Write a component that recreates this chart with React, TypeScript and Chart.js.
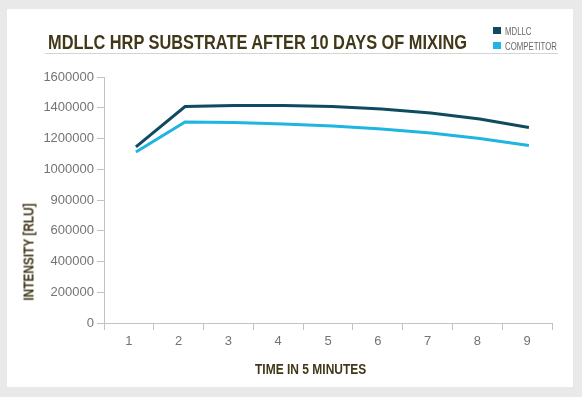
import React, { useEffect, useRef } from "react";
import { Chart, registerables } from "chart.js";

Chart.register(...registerables);

// ---- data ----
const timeLabels = ["1", "2", "3", "4", "5", "6", "7", "8", "9"];
const timeValues = [1, 2, 3, 4, 5, 6, 7, 8, 9];
const mdllcValues = [1145000, 1408000, 1415000, 1415000, 1408000, 1392000, 1366000, 1327000, 1272000];
const competitorValues = [1112000, 1307000, 1304000, 1294000, 1281000, 1262000, 1236000, 1200000, 1154000];
const yTickLabels = ["0", "200000", "400000", "600000", "900000", "1000000", "1200000", "1400000", "1600000"];
const seriesNames = ["MDLLC", "COMPETITOR"];
const titleText = "MDLLC HRP SUBSTRATE AFTER 10 DAYS OF MIXING";
const xAxisTitle = "TIME IN 5 MINUTES";
const yAxisTitle = "INTENSITY [RLU]";

// ---- styles ----
const seriesColors = ["#0f4a60", "#1fb4e2"];
const SANS = "'Liberation Sans', Arial, sans-serif";
const titleColor = "#41381a";
const tickColor = "#747474";
const axisColor = "#c2c2c2";

export default function App() {
  const ref = useRef<HTMLCanvasElement>(null);

  useEffect(() => {
    const canvas = ref.current;
    if (!canvas) return;
    const chart = new Chart(canvas, {
      type: "line",
      data: {
        datasets: [mdllcValues, competitorValues].map((vals, k) => ({
          label: seriesNames[k],
          data: timeValues.map((t, i) => ({ x: t, y: vals[i] })),
          borderColor: seriesColors[k],
          backgroundColor: seriesColors[k],
          borderWidth: 3,
          pointRadius: 0,
          tension: 0,
          fill: false,
          xAxisID: "xData",
          yAxisID: "y",
        })),
      },
      options: {
        responsive: false,
        animation: false,
        devicePixelRatio: 1,
        layout: { padding: { top: 77, right: 30, bottom: 0, left: 0 } },
        plugins: {
          legend: { display: false },
          title: { display: false },
          tooltip: { enabled: false },
        },
        scales: {
          x: {
            type: "category",
            labels: timeLabels,
            offset: true,
            position: "bottom",
            grid: {
              display: true,
              drawOnChartArea: false,
              drawTicks: true,
              tickLength: 7,
              color: axisColor,
              offset: true,
            },
            border: { display: true, color: axisColor },
            ticks: {
              color: tickColor,
              font: { family: SANS, size: 13 },
              padding: 4,
              maxRotation: 0,
            },
            afterFit: (s: any) => {
              s.height = 74;
            },
          },
          xData: {
            type: "linear",
            display: false,
            min: 0.35,
            max: 9.47,
          },
          y: {
            type: "linear",
            min: 0,
            max: 1600000,
            grid: {
              display: true,
              drawOnChartArea: false,
              drawTicks: true,
              tickLength: 7,
              color: axisColor,
            },
            border: { display: true, color: axisColor },
            ticks: {
              stepSize: 200000,
              color: tickColor,
              font: { family: SANS, size: 13 },
              padding: 3,
              callback: (_v: any, i: number) => yTickLabels[i],
            },
            afterFit: (s: any) => {
              s.width = 104;
            },
          },
        },
      } as any,
    });
    return () => chart.destroy();
  }, []);

  const abs: React.CSSProperties = { position: "absolute", whiteSpace: "nowrap" };

  return (
    <div
      style={{
        position: "fixed",
        left: 0,
        top: 0,
        width: 582,
        height: 397,
        background: "#e8e9e8",
        overflow: "hidden",
      }}
    >
      <div style={{ ...abs, left: 7, top: 9, width: 566, height: 378, background: "#ffffff" }} />
      <canvas
        ref={ref}
        width={582}
        height={397}
        style={{ position: "absolute", left: 0, top: 0, width: 582, height: 397, display: "block" }}
      />
      <div
        style={{
          ...abs,
          left: 48,
          top: 32,
          fontFamily: SANS,
          fontWeight: 700,
          fontSize: 20,
          lineHeight: "20px",
          color: titleColor,
          transform: "scaleX(0.818)",
          transformOrigin: "left top",
        }}
      >
        {titleText}
      </div>
      <div style={{ ...abs, left: 45, top: 53, width: 513, height: 1, background: "#d4d4d4" }} />
      {seriesNames.map((name, k) => (
        <React.Fragment key={name}>
          <div
            style={{
              ...abs,
              left: 493,
              top: 27 + k * 15,
              width: 8,
              height: 7,
              background: seriesColors[k],
            }}
          />
          <div
            style={{
              ...abs,
              left: 505,
              top: 25.7 + k * 15,
              fontFamily: SANS,
              fontSize: 11,
              lineHeight: "11px",
              color: "#686868",
              transform: "scaleX(0.71)",
              transformOrigin: "left top",
            }}
          >
            {name}
          </div>
        </React.Fragment>
      ))}
      <div
        style={{
          ...abs,
          left: 255,
          top: 361,
          fontFamily: SANS,
          fontWeight: 700,
          fontSize: 15,
          lineHeight: "15px",
          color: titleColor,
          transform: "scaleX(0.8)",
          transformOrigin: "left top",
        }}
      >
        {xAxisTitle}
      </div>
      <div
        style={{
          ...abs,
          left: 27.5,
          top: 252,
          transform: "translate(-50%, -50%) rotate(-90deg) scaleX(0.79)",
          fontFamily: SANS,
          fontWeight: 700,
          fontSize: 15,
          lineHeight: "15px",
          color: titleColor,
        }}
      >
        {yAxisTitle}
      </div>
    </div>
  );
}
